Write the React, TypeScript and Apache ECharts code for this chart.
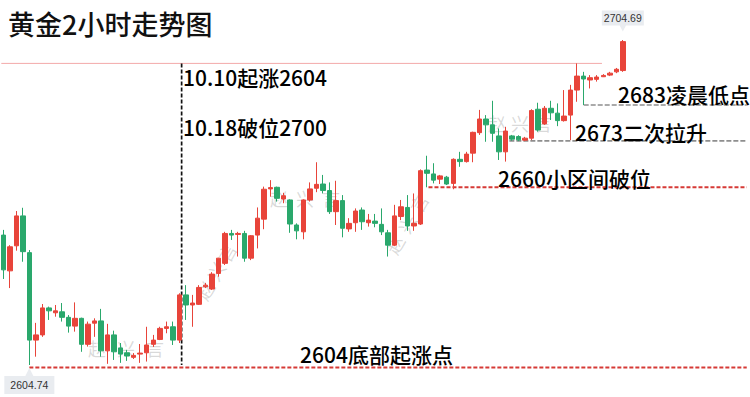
import React, { useEffect, useRef } from "react";
import * as echarts from "echarts";

// Candles: [open, close, low, high] split into named arrays
const opens = [
  2644.7, 2633.7, 2641.4, 2650.6, 2639.3, 2612.4, 2614.0, 2622.3, 2620.8, 2621.1,
  2619.4, 2616.7, 2619.1, 2611.1, 2617.6, 2618.3, 2609.1, 2614.0, 2610.0, 2608.5,
  2607.1, 2608.1, 2608.5, 2611.1, 2612.6, 2616.0, 2616.5, 2612.4, 2626.3, 2623.2,
  2623.4, 2628.8, 2628.1, 2632.9, 2636.0, 2645.2, 2644.9, 2645.2, 2637.6, 2644.7,
  2649.6, 2658.9, 2659.4, 2655.8, 2655.5, 2647.8, 2645.7, 2655.5, 2659.1, 2660.4,
  2658.4, 2651.9, 2655.3, 2646.6, 2648.5, 2652.4, 2648.5, 2649.0, 2648.0, 2645.4,
  2641.6, 2650.4, 2653.2, 2647.5, 2648.1, 2664.7, 2663.5, 2661.9, 2662.5, 2660.6,
  2668.0, 2667.3, 2669.9, 2676.2, 2680.4, 2678.6, 2675.2, 2670.3, 2675.2, 2675.0,
  2673.9, 2674.5, 2683.4, 2678.9, 2683.7, 2682.2, 2679.9, 2681.6, 2689.3, 2693.6,
  2692.4, 2692.6, 2693.4, 2693.9, 2694.9, 2695.3,
];
const closes = [
  2634.0, 2641.1, 2650.6, 2639.6, 2612.4, 2614.0, 2622.3, 2621.4, 2621.4, 2619.4,
  2616.7, 2619.1, 2611.1, 2617.3, 2618.3, 2609.1, 2614.0, 2608.8, 2608.1, 2607.5,
  2607.7, 2608.4, 2610.9, 2612.4, 2616.0, 2616.5, 2612.4, 2626.3, 2623.2, 2623.8,
  2628.6, 2629.3, 2632.7, 2637.6, 2645.2, 2644.7, 2645.2, 2637.6, 2644.5, 2649.9,
  2658.8, 2659.3, 2656.0, 2656.8, 2648.1, 2646.0, 2655.5, 2658.9, 2660.3, 2658.4,
  2651.9, 2655.3, 2646.8, 2648.3, 2652.1, 2648.8, 2649.3, 2648.3, 2645.7, 2641.6,
  2650.6, 2653.4, 2647.5, 2648.3, 2664.5, 2663.7, 2661.6, 2662.9, 2660.4, 2668.0,
  2667.3, 2669.6, 2676.3, 2680.4, 2678.6, 2676.0, 2670.3, 2676.7, 2674.2, 2674.0,
  2674.5, 2683.0, 2677.0, 2683.7, 2682.3, 2679.9, 2681.3, 2689.3, 2693.6, 2692.7,
  2693.1, 2693.3, 2693.8, 2694.5, 2695.7, 2704.2,
];
const lows = [
  2631.2, 2628.4, 2639.9, 2636.5, 2604.74, 2607.3, 2613.4, 2618.6, 2619.6, 2618.1,
  2614.7, 2615.0, 2608.8, 2610.4, 2613.4, 2607.3, 2605.1, 2606.3, 2605.4, 2606.0,
  2606.6, 2605.4, 2605.8, 2610.3, 2612.4, 2614.5, 2610.9, 2611.5, 2618.6, 2616.5,
  2623.2, 2628.4, 2627.8, 2631.9, 2635.5, 2643.2, 2638.1, 2636.5, 2637.0, 2640.6,
  2646.5, 2656.5, 2655.0, 2654.5, 2645.4, 2643.4, 2643.4, 2655.0, 2657.9, 2657.5,
  2651.2, 2647.8, 2644.0, 2645.7, 2645.7, 2646.3, 2647.3, 2647.1, 2644.7, 2638.1,
  2641.3, 2649.3, 2646.0, 2646.0, 2647.8, 2659.4, 2660.6, 2660.4, 2660.1, 2658.8,
  2665.7, 2667.0, 2667.1, 2675.5, 2673.4, 2673.4, 2667.8, 2667.3, 2673.7, 2673.6,
  2673.6, 2673.9, 2676.5, 2678.6, 2680.1, 2678.2, 2679.6, 2673.9, 2685.7, 2684.7,
  2689.8, 2691.9, 2693.3, 2693.6, 2694.5, 2694.9,
];
const highs = [
  2646.3, 2641.6, 2652.1, 2653.1, 2640.1, 2617.7, 2623.5, 2622.7, 2623.2, 2623.8,
  2620.1, 2624.0, 2619.3, 2618.1, 2619.1, 2622.0, 2617.4, 2615.3, 2611.5, 2609.4,
  2608.4, 2611.2, 2616.5, 2614.0, 2616.5, 2618.1, 2618.1, 2626.8, 2629.3, 2626.3,
  2629.3, 2630.0, 2633.3, 2637.7, 2645.7, 2646.3, 2645.7, 2646.0, 2644.7, 2653.2,
  2659.6, 2661.6, 2659.6, 2657.7, 2655.7, 2648.3, 2655.7, 2660.9, 2667.1, 2663.2,
  2660.9, 2661.4, 2657.0, 2649.9, 2652.9, 2653.2, 2651.2, 2651.2, 2652.9, 2646.3,
  2654.0, 2655.5, 2657.0, 2657.5, 2664.9, 2669.1, 2666.8, 2663.2, 2662.9, 2668.3,
  2670.3, 2670.3, 2676.5, 2683.2, 2681.6, 2686.0, 2677.5, 2678.0, 2675.5, 2675.4,
  2674.9, 2683.4, 2685.4, 2684.4, 2686.0, 2685.2, 2689.3, 2690.9, 2697.5, 2694.9,
  2693.9, 2693.9, 2694.2, 2694.9, 2696.1, 2704.69,
];

// Slots on the time axis (candles plus empty space to the right)
const SLOT_COUNT = 115;
const categories = Array.from({ length: SLOT_COUNT }, (_, i) => String(i + 1));

// Annotation levels (price) and where they start/end (slot index)
const prevHigh = 2697.5;
const bottomLevel = 2604.0;
const breakLevel = 2659.4;
const secondLevel = 2673.7;
const dawnLevel = 2684.7;
const startSlot = 27.35; // vertical marker (10.10 start)

const Y_MIN = 2594.9;
const Y_MAX = 2717.0;

const RED = "#e8443a";
const GREEN = "#2aa86c";
const CJK = "Noto Sans CJK SC";

const labels = [
  { text: "10.10起涨2604", x: 183, y: 76.5 },
  { text: "10.18破位2700", x: 183, y: 126.5 },
  { text: "2683凌晨低点", x: 618, y: 93.5 },
  { text: "2673二次拉升", x: 575, y: 131.5 },
  { text: "2660小区间破位", x: 498, y: 178 },
  { text: "2604底部起涨点", x: 300, y: 354 },
];

export default function App() {
  const ref = useRef<HTMLDivElement>(null);
  useEffect(() => {
    if (!ref.current) return;
    const chart = echarts.init(ref.current, undefined, { renderer: "svg" });
    const candles = opens.map((o, i) => [o, closes[i], lows[i], highs[i]]);
    const last = SLOT_COUNT - 1;

    const lineSeries = (
      data: number[][],
      color: string,
      width: number,
      type: any
    ) => ({
      type: "line",
      xAxisIndex: 1,
      yAxisIndex: 0,
      data,
      symbol: "none",
      silent: true,
      lineStyle: { color, width, type },
      z: 1,
    });

    const wm = (x: number, y: number, pitch: number, rot: number) => ({
      type: "group",
      x,
      y,
      rotation: rot,
      silent: true,
      children: ["赵", "兴", "言"].map((c, i) => ({
        type: "text",
        x: i * pitch,
        y: 0,
        style: {
          text: c,
          fontSize: 18,
          fontFamily: CJK,
          fill: "rgba(120,120,120,0.28)",
          verticalAlign: "middle",
        },
      })),
    });

    chart.setOption({
      animation: false,
      backgroundColor: "#ffffff",
      grid: { left: -1.6, top: 0, width: SLOT_COUNT * 6.57, height: 397, containLabel: false },
      xAxis: [
        { type: "category", data: categories, show: false, boundaryGap: true },
        { type: "value", min: -0.5, max: SLOT_COUNT - 0.5, show: false },
      ],
      yAxis: { type: "value", min: Y_MIN, max: Y_MAX, show: false, splitLine: { show: false } },
      graphic: [
        wm(88, 348, 29, 0),
        wm(270, 198, 26, 0),
        wm(488, 123, 23, 0),
        wm(200, 298, 22, Math.PI / 3),
        wm(390, 252, 24, Math.PI / 3),
        {
          type: "text",
          x: 8,
          y: 23,
          style: { text: "黄金2小时走势图", fontSize: 27, fontWeight: 500, fontFamily: CJK, fill: "#111", verticalAlign: "middle" },
        },
        ...labels.map((l) => ({
          type: "text",
          x: l.x,
          y: l.y,
          z: 10,
          style: { text: l.text, fontSize: 21, fontWeight: 500, fontFamily: CJK, fill: "#000", verticalAlign: "middle" },
        })),
      ],
      series: [
        lineSeries([[-0.3, prevHigh], [91.8, prevHigh]], "#f3a9a9", 1, "solid"),
        lineSeries([[startSlot, prevHigh], [startSlot, lows[4]]], "#111", 1.7, [4, 2]),
        lineSeries([[4, bottomLevel], [last, bottomLevel]], "#d63a36", 2, [4, 2]),
        lineSeries([[65.2, breakLevel], [last, breakLevel]], "#d63a36", 2, [4, 2]),
        lineSeries([[77.6, secondLevel], [last, secondLevel]], "#8e8e8e", 1.7, [5, 2]),
        lineSeries([[89, dawnLevel], [last, dawnLevel]], "#8e8e8e", 1.7, [5, 2]),
        {
          type: "candlestick",
          xAxisIndex: 0,
          yAxisIndex: 0,
          data: candles,
          barWidth: 5,
          z: 2,
          itemStyle: {
            color: RED,
            color0: GREEN,
            borderColor: RED,
            borderColor0: GREEN,
            borderWidth: 1,
          },
          markPoint: {
            silent: true,
            itemStyle: { color: "#e9ecf0" },
            label: {
              show: true,
              position: "inside",
              color: "#333",
              fontSize: 10.5,
              fontFamily: "Liberation Sans",
              formatter: (p: any) => Number(p.value).toFixed(2),
            },
            data: [
              {
                type: "max",
                valueDim: "highest",
                symbol: "path://M0 0H40V15H23L20 21L17 15H0Z",
                symbolKeepAspect: false,
                symbolSize: [42, 21],
                symbolOffset: [0, -19],
                label: { offset: [0, -3] },
              },
              {
                type: "min",
                valueDim: "lowest",
                symbol: "path://M0 8H21L25 0L29 8H50V26H0Z",
                symbolKeepAspect: false,
                symbolSize: [50, 26],
                symbolOffset: [0, 16],
                label: { offset: [0, 4] },
              },
            ],
          },
        },
      ],
    });
    return () => chart.dispose();
  }, []);
  return (
    <div
      ref={ref}
      style={{ position: "fixed", left: 0, top: 0, width: 750, height: 397 }}
    />
  );
}
